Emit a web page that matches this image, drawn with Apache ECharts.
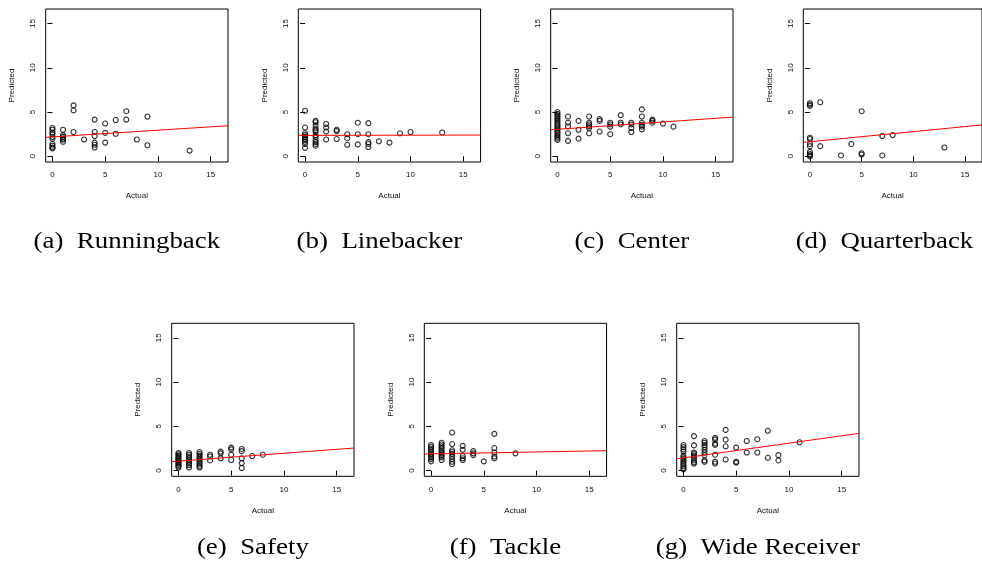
<!DOCTYPE html>
<html>
<head>
<meta charset="utf-8">
<script src="https://cdn.jsdelivr.net/npm/echarts@6/dist/echarts.min.js"></script>
<style>
  html, body { margin: 0; padding: 0; background: #fff; }
  #chart { width: 982px; height: 569px; }
</style>
</head>
<body>
<div id="chart"></div>
<script>
// actual vs predicted, one list of [actual, predicted] per position
const runningback = [
  [0,3.2],[0,3.0],[0,2.7],[0,2.5],[0,2.2],[0,2.0],[0,1.4],[0,1.2],[0,1.0],[0,0.9],
  [1,3.0],[1,2.4],[1,2.2],[1,2.0],[1,1.9],[1,1.65],
  [2,5.75],[2,5.2],[2,2.75],
  [3,1.9],
  [4,4.15],[4,2.75],[4,2.3],[4,1.55],[4,1.3],[4,1.0],
  [5,3.7],[5,2.65],[5,1.55],
  [6,4.1],[6,2.55],
  [7,5.1],[7,4.15],
  [8,1.9],
  [9,4.5],[9,1.25],
  [13,0.65]
];
const linebacker = [
  [0,5.15],[0,3.25],[0,2.6],[0,2.4],[0,2.2],[0,2.0],[0,1.85],[0,1.65],[0,1.4],[0,0.95],
  [1,4.0],[1,3.85],[1,3.5],[1,3.15],[1,2.95],[1,2.8],[1,2.4],[1,2.2],[1,1.85],[1,1.6],[1,1.4],[1,1.2],
  [2,3.65],[2,3.25],[2,2.8],[2,1.9],
  [3,3.0],[3,2.85],[3,1.95],
  [4,2.5],[4,2.05],[4,1.3],
  [5,3.8],[5,2.5],[5,1.35],
  [6,3.75],[6,2.5],[6,1.6],[6,1.4],[6,1.05],
  [7,1.7],[8,1.55],[9,2.6],[10,2.75],[13,2.7]
];
const center = [
  [0,5.0],[0,4.8],[0,4.6],[0,4.4],[0,4.2],[0,4.0],[0,3.8],[0,3.6],[0,3.4],[0,3.2],
  [0,3.0],[0,2.8],[0,2.6],[0,2.4],[0,2.2],[0,2.0],[0,1.85],
  [1,4.5],[1,3.8],[1,3.4],[1,2.6],[1,1.75],
  [2,4.0],[2,3.0],[2,2.0],
  [3,4.5],[3,3.8],[3,3.6],[3,3.4],[3,3.2],[3,2.6],
  [4,4.2],[4,4.0],[4,2.8],
  [5,3.8],[5,3.6],[5,3.35],[5,2.5],
  [6,4.65],[6,3.8],[6,3.6],
  [7,3.8],[7,3.6],[7,3.2],[7,2.75],
  [8,5.3],[8,4.5],[8,3.8],[8,3.55],[8,3.35],[8,3.05],
  [9,4.15],[9,4.0],[9,3.8],
  [10,3.7],[11,3.35]
];
const quarterback = [
  [0,6.0],[0,5.85],[0,5.7],[0,2.1],[0,1.95],[0,1.4],[0,1.15],[0,0.5],[0,0.25],[0,0.1],[0,0.0],
  [1,6.1],[1,1.15],
  [3,0.1],
  [4,1.4],
  [5,5.1],[5,0.35],[5,0.2],
  [7,2.3],[7,0.1],
  [8,2.4],
  [13,1.0]
];
const safety = [
  [0,2.0],[0,1.85],[0,1.7],[0,1.55],[0,1.4],[0,1.25],[0,1.1],[0,0.95],[0,0.8],[0,0.65],[0,0.5],[0,0.35],
  [1,2.0],[1,1.8],[1,1.6],[1,1.4],[1,1.2],[1,1.0],[1,0.8],[1,0.6],[1,0.35],
  [2,2.1],[2,1.9],[2,1.7],[2,1.5],[2,1.3],[2,1.1],[2,0.9],[2,0.7],[2,0.5],[2,0.35],
  [3,1.8],[3,1.6],[3,1.15],
  [4,2.15],[4,1.95],[4,1.4],
  [5,2.6],[5,2.4],[5,1.8],[5,1.2],
  [6,2.45],[6,2.2],[6,1.4],[6,0.85],[6,0.3],
  [7,1.65],[8,1.8]
];
const tackle = [
  [0,2.9],[0,2.7],[0,2.5],[0,2.3],[0,2.1],[0,1.9],[0,1.7],[0,1.5],[0,1.3],[0,1.05],
  [1,3.15],[1,2.95],[1,2.75],[1,2.55],[1,2.3],[1,2.1],[1,1.9],[1,1.7],[1,1.5],[1,1.2],
  [2,4.3],[2,3.0],[2,2.3],[2,2.1],[2,1.9],[2,1.6],[2,1.3],[2,1.0],[2,0.75],
  [3,2.8],[3,2.35],[3,1.65],[3,1.4],[3,1.2],
  [4,2.2],[4,1.95],[4,1.75],
  [5,1.05],
  [6,4.15],[6,2.55],[6,2.05],[6,1.6],[6,1.4],
  [8,1.95]
];
const wideReceiver = [
  [0,2.9],[0,2.65],[0,2.4],[0,2.15],[0,1.7],[0,1.5],[0,1.3],[0,1.1],[0,0.9],[0,0.7],[0,0.5],[0,0.3],[0,0.15],
  [1,3.9],[1,2.85],[1,2.05],[1,1.9],[1,1.7],[1,1.45],[1,1.15],[1,0.95],[1,0.8],
  [2,3.35],[2,3.15],[2,2.9],[2,2.65],[2,2.35],[2,2.05],[2,1.75],[2,1.15],[2,1.0],
  [3,3.7],[3,3.5],[3,3.05],[3,2.9],[3,1.8],[3,1.0],[3,0.8],
  [4,4.6],[4,3.5],[4,2.75],[4,1.25],
  [5,2.6],[5,1.0],[5,0.9],
  [6,3.35],[6,2.05],
  [7,3.55],[7,2.05],
  [8,4.5],[8,1.45],
  [9,1.75],[9,1.15],
  [11,3.2]
];

// fitted regression line for each panel
const fitIntercept = [2.19, 2.37, 3.05, 1.65, 1.07, 1.89, 1.43];
const fitSlope = [0.076, 0.002, 0.083, 0.114, 0.089, 0.022, 0.167];

const captions = ['(a)  Runningback', '(b)  Linebacker', '(c)  Center', '(d)  Quarterback',
                  '(e)  Safety', '(f)  Tackle', '(g)  Wide Receiver'];
const tickValues = [0, 5, 10, 15];
const axisMin = -0.64, axisMax = 16.64;

const panels = [runningback, linebacker, center, quarterback, safety, tackle, wideReceiver];

// layout of the plot boxes (px)
const boxLeft = [45.7, 298.3, 550.7, 803.3, 171.7, 424.3, 676.7];
const boxTop = [9, 9, 9, 9, 323.3, 323.3, 323.3];
const boxW = 182.3, boxH = 153;
const capY = [241.5, 241.5, 241.5, 241.5, 548, 548, 548];

const tickFont = { fontFamily: 'Liberation Sans', fontSize: 8, color: '#111' };

let grids = [], xAxes = [], yAxes = [], series = [], graphics = [];
panels.forEach((pts, i) => {
  grids.push({
    left: boxLeft[i], top: boxTop[i], width: boxW, height: boxH,
    show: true, borderColor: '#000', borderWidth: 1, backgroundColor: 'transparent'
  });
  xAxes.push({
    type: 'value', gridIndex: i, min: axisMin, max: axisMax,
    name: 'Actual', nameLocation: 'middle', nameGap: 30,
    nameTextStyle: tickFont,
    axisLine: { show: false },
    axisTick: { show: true, inside: false, length: 5, customValues: tickValues,
                lineStyle: { color: '#000', width: 1 } },
    axisLabel: { customValues: tickValues, margin: 9, ...tickFont },
    splitLine: { show: false }
  });
  yAxes.push({
    type: 'value', gridIndex: i, min: axisMin, max: axisMax,
    name: 'Predicted', nameLocation: 'middle', nameGap: 30,
    nameTextStyle: tickFont,
    axisLine: { show: false },
    axisTick: { show: true, inside: false, length: 5, customValues: tickValues,
                lineStyle: { color: '#000', width: 1 } },
    axisLabel: { customValues: tickValues, rotate: 90, margin: 9, ...tickFont },
    splitLine: { show: false }
  });
  series.push({
    type: 'scatter', xAxisIndex: i, yAxisIndex: i, data: pts,
    symbol: 'circle', symbolSize: 5, silent: true,
    itemStyle: { color: 'rgba(0,0,0,0)', borderColor: '#000', borderWidth: 1.1 }
  });
  const a = fitIntercept[i], b = fitSlope[i];
  series.push({
    type: 'line', xAxisIndex: i, yAxisIndex: i, symbol: 'none', silent: true,
    data: [[axisMin, a + b * axisMin], [axisMax, a + b * axisMax]],
    lineStyle: { color: '#ff0000', width: 1 }
  });
  // caption sits under the subfigure, a little left of the box centre
  graphics.push({
    type: 'text', x: boxLeft[i] + boxW / 2 - 10, y: capY[i], scaleX: 1.12,
    style: { text: captions[i], textAlign: 'center', textVerticalAlign: 'middle',
             font: '24px "Liberation Serif"', fill: '#000' }
  });
});

const chart = echarts.init(document.getElementById('chart'), null, { renderer: 'canvas' });
chart.setOption({
  animation: false,
  backgroundColor: '#fff',
  grid: grids,
  xAxis: xAxes,
  yAxis: yAxes,
  series: series,
  graphic: graphics
});
</script>
</body>
</html>
